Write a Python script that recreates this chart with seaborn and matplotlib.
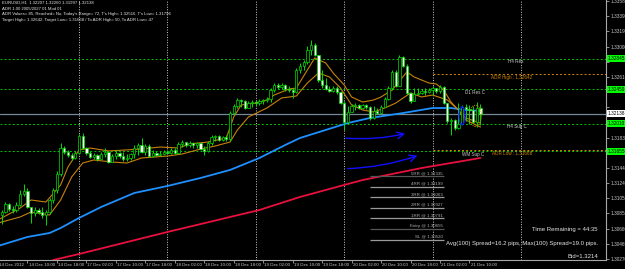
import numpy as np
import pandas as pd
import matplotlib
matplotlib.use("Agg")
import matplotlib.pyplot as plt
import seaborn as sns
from matplotlib.patches import Ellipse
from matplotlib.transforms import blended_transform_factory

# ---------------- data ----------------
first_open = 1.30771
close = [1.30835,1.30874,1.30977,1.30912,1.30900,1.30964,1.31105,1.31144,1.30938,1.30861,
         1.30900,1.30874,1.30835,1.30874,1.31028,1.31157,1.31362,1.31696,1.31645,1.31606,
         1.31568,1.31632,1.31850,1.31696,1.31632,1.31581,1.31606,1.31555,1.31619,1.31645,
         1.31516,1.31593,1.31632,1.31593,1.31555,1.31568,1.31619,1.31696,1.31735,1.31645,
         1.31722,1.31593,1.31632,1.31606,1.31619,1.31645,1.31632,1.31671,1.31632,1.31748,
         1.31773,1.31735,1.31760,1.31735,1.31760,1.31683,1.31658,1.31760,1.31838,1.31850,
         1.31799,1.31838,1.31812,1.32146,1.32236,1.32313,1.32300,1.32210,1.32274,1.32287,
         1.32274,1.32300,1.32313,1.32326,1.32442,1.32506,1.32480,1.32506,1.32454,1.32442,
         1.32416,1.32699,1.32750,1.32801,1.32956,1.33020,1.32891,1.32570,1.32506,1.32454,
         1.32429,1.32467,1.32416,1.32274,1.32030,1.32159,1.32236,1.32249,1.32210,1.32249,
         1.32223,1.32082,1.32172,1.32146,1.32223,1.32326,1.32467,1.32673,1.32493,1.32866,
         1.32750,1.32403,1.32300,1.32390,1.32403,1.32429,1.32416,1.32442,1.32467,1.32429,
         1.32480,1.32274,1.32043,1.32056,1.31953,1.32005,1.32223,1.32197,1.32185,1.32030,
         1.32207,1.32138]
high = [1.30900,1.30900,1.31002,1.30989,1.30951,1.31002,1.31157,1.31234,1.31182,1.30925,
        1.30938,1.30925,1.30938,1.30900,1.31054,1.31182,1.31401,1.31760,1.31722,1.31671,
        1.31632,1.31658,1.31876,1.31889,1.31709,1.31658,1.31632,1.31619,1.31645,1.31696,
        1.31658,1.31619,1.31671,1.31645,1.31645,1.31619,1.31632,1.31735,1.31760,1.31825,
        1.31748,1.31748,1.31671,1.31658,1.31658,1.31671,1.31671,1.31696,1.31696,1.31773,
        1.31799,1.31773,1.31786,1.31773,1.31773,1.31760,1.31722,1.31786,1.31863,1.31863,
        1.31863,1.31850,1.31863,1.32172,1.32262,1.32339,1.32326,1.32313,1.32300,1.32313,
        1.32313,1.32326,1.32326,1.32352,1.32467,1.32531,1.32531,1.32531,1.32519,1.32493,
        1.32467,1.32724,1.32788,1.32827,1.33007,1.33084,1.33045,1.32891,1.32699,1.32596,
        1.32493,1.32493,1.32493,1.32429,1.32300,1.32236,1.32262,1.32274,1.32262,1.32262,
        1.32262,1.32236,1.32236,1.32210,1.32249,1.32352,1.32493,1.32699,1.32699,1.32891,
        1.32878,1.32776,1.32416,1.32467,1.32467,1.32454,1.32467,1.32467,1.32493,1.32467,
        1.32506,1.32493,1.32274,1.32082,1.32069,1.32274,1.32249,1.32262,1.32249,1.32236,
        1.32287,1.32260]
low = [1.30720,1.30720,1.30861,1.30887,1.30861,1.30874,1.30951,1.31079,1.30925,1.30732,
       1.30822,1.30848,1.30797,1.30707,1.30848,1.30989,1.31118,1.31336,1.31619,1.31581,
       1.31542,1.31555,1.31619,1.31683,1.31606,1.31568,1.31555,1.31529,1.31555,1.31581,
       1.31503,1.31516,1.31555,1.31568,1.31529,1.31529,1.31542,1.31568,1.31606,1.31632,
       1.31606,1.31581,1.31581,1.31593,1.31593,1.31606,1.31619,1.31619,1.31619,1.31619,
       1.31709,1.31709,1.31709,1.31696,1.31696,1.31671,1.31606,1.31645,1.31735,1.31786,
       1.31786,1.31786,1.31786,1.31786,1.32120,1.32210,1.32223,1.32197,1.32210,1.32223,
       1.32236,1.32249,1.32262,1.32287,1.32287,1.32416,1.32454,1.32454,1.32429,1.32416,
       1.32339,1.32403,1.32660,1.32699,1.32776,1.32891,1.32878,1.32544,1.32467,1.32442,
       1.32416,1.32416,1.32390,1.32262,1.31928,1.32005,1.32159,1.32185,1.32197,1.32197,
       1.32197,1.32056,1.32069,1.32133,1.32133,1.32223,1.32313,1.32442,1.32480,1.32493,
       1.32737,1.32390,1.32274,1.32300,1.32377,1.32390,1.32377,1.32403,1.32377,1.32403,
       1.32403,1.32262,1.32017,1.31863,1.31928,1.31940,1.31992,1.32043,1.32005,1.32017,
       1.31966,1.31997]

# moving averages (bar index, price)
blue_idx = [0, 8, 14, 17, 22, 28, 37, 46, 55, 63, 71, 78, 82, 95, 101, 110, 118, 123, 127, 131]
blue_val = [1.30437, 1.30553, 1.30604, 1.30668, 1.30797, 1.30938, 1.31118, 1.31208, 1.31311, 1.31414,
            1.31568, 1.31735, 1.31825, 1.32017, 1.32082, 1.32146, 1.32210, 1.32210, 1.32185, 1.32172]
red_idx = [15, 22, 46, 71, 82, 99, 115, 131]
red_val = [1.30257, 1.30334, 1.30617, 1.30900, 1.31067, 1.31285, 1.31439, 1.31568]
env_up_idx = [0, 6, 9, 13, 17, 19, 22, 25, 30, 39, 44, 49, 52, 57, 62, 64, 66, 70, 73, 75, 79, 81,
              84, 86, 89, 91, 94, 96, 99, 102, 104, 107, 111, 113, 117, 119, 121, 123, 125, 127, 131]
env_up_val = [1.30771, 1.30925, 1.31028, 1.31002, 1.31221, 1.31452, 1.31671, 1.31696, 1.31658, 1.31683,
              1.31709, 1.31696, 1.31748, 1.31773, 1.31825, 1.32095, 1.32249, 1.32274, 1.32313, 1.32377,
              1.32454, 1.32467, 1.32699, 1.32853, 1.32788, 1.32660, 1.32506, 1.32352, 1.32287, 1.32313,
              1.32352, 1.32442, 1.32673, 1.32609, 1.32531, 1.32519, 1.32442, 1.32287, 1.32185, 1.32082,
              1.32017]
env_lo_idx = [0, 6, 9, 14, 17, 20, 23, 26, 31, 35, 39, 46, 50, 55, 59, 63, 65, 68, 73, 77, 81, 84,
              87, 90, 93, 96, 99, 102, 105, 108, 112, 115, 118, 122, 125, 127, 131]
env_lo_val = [1.30732, 1.30810, 1.30874, 1.30835, 1.31028, 1.31324, 1.31503, 1.31542, 1.31516, 1.31503,
              1.31568, 1.31593, 1.31619, 1.31683, 1.31722, 1.31773, 1.31928, 1.32095, 1.32210, 1.32339,
              1.32364, 1.32531, 1.32660, 1.32609, 1.32467, 1.32249, 1.32185, 1.32159, 1.32210, 1.32274,
              1.32403, 1.32352, 1.32377, 1.32313, 1.32185, 1.32056, 1.31966]

# time axis
time_tick_idx = [0, 8, 16, 24, 32, 40, 48, 56, 64, 72, 80, 88, 96, 104, 112, 120, 128]
time_tick_text = ["14 Dec 2012", "14 Dec 10:00", "14 Dec 18:00", "17 Dec 02:00", "17 Dec 10:00",
                  "17 Dec 18:00", "18 Dec 02:00", "18 Dec 10:00", "18 Dec 18:00", "19 Dec 02:00",
                  "19 Dec 10:00", "19 Dec 18:00", "20 Dec 02:00", "20 Dec 10:00", "20 Dec 18:00",
                  "21 Dec 02:00", "21 Dec 10:00"]
day_separator_idx = [22, 46, 70, 94, 118, 142]
price_ticks = [1.33585, 1.33390, 1.33195, 1.33000, 1.32805, 1.32610, 1.32415, 1.32220, 1.32025,
               1.31830, 1.31635, 1.31440, 1.31245, 1.31050, 1.30855, 1.30660, 1.30465, 1.30270]

# levels
pivot_names = ["H4 Res", "D1 Res C", "H4 Sup C", "WM Sup C"]
pivot_levels = [1.32845, 1.32450, 1.32010, 1.31655]
pivot_label_idx = [140.5, 129.5, 141.0, 129.0]
adr_names = ["ADR High : 1.32642", "ADR Low : 1.31668"]
adr_levels = [1.32642, 1.31668]
bid = 1.32138
rr_names = ["5RR", "4RR", "3RR", "2RR", "1RR", "Entry", "SL"]
rr_levels = [1.31335, 1.31199, 1.31063, 1.30927, 1.30791, 1.30655, 1.30520]

info_lines = ["EURUSD,H1  1.32207 1.32260 1.31997 1.32138",
              "ADR 1.00 2005/2027 01 Mod 01",
              "ADR Values= 85, Reached= No, Today's Range= 72, T's High= 1.32516, T's Low= 1.31796",
              "Target High= 1.32642, Target Low= 1.31668 / To ADR High= 50, To ADR Low= 47"]
status_lines = ["Time Remaining = 44:35",
                "Avg(100) Spread=16.2 pips, Max(100) Spread=19.0 pips.",
                "Bid=1.3214"]

# hand-drawn annotations (start idx, start price, end idx, end price)
arrows = [(93.7, 1.31825, 111.3, 1.31889), (94.2, 1.31430, 114.6, 1.31610)]

# ---------------- style ----------------
sns.set_theme(style="dark")
plt.rcParams['font.family'] = ['Liberation Sans', 'DejaVu Sans']

W, H = 625, 269
fig = plt.figure(figsize=(W / 100, H / 100), dpi=100, facecolor='black')
ax = fig.add_axes([0, 9 / H, 606 / W, 260 / H])
ax.set_facecolor('black')
ax.grid(False)
XMIN, XMAX = 0.543, 165.08
YMIN, YMAX = 1.30257, 1.33598
PX = (YMAX - YMIN) / 260.0

# separators & horizontal levels
ax.vlines(day_separator_idx, YMIN, YMAX, colors='#cfcfcf', linestyles=(0, (1, 1.6)), lw=0.7, zorder=1)
ax.hlines(pivot_levels, XMIN, XMAX, colors='#00c800', linestyles=(0, (2, 2.2)), lw=0.7, zorder=1)
ax.hlines(adr_levels, 118, XMAX, colors='#d08800', linestyles=(0, (2, 2.2)), lw=0.7, zorder=1)
ax.axhline(bid, color='#778899', lw=0.9, zorder=1)

# moving averages via seaborn
sns.lineplot(x=red_idx, y=red_val, ax=ax, color='#e8103c', lw=1.3, sort=False, zorder=2)
sns.lineplot(x=blue_idx, y=blue_val, ax=ax, color='#1e90ff', lw=1.3, sort=False, zorder=2)
sns.lineplot(x=env_up_idx, y=env_up_val, ax=ax, color='#c8820a', lw=0.8, sort=False, zorder=2)
sns.lineplot(x=env_lo_idx, y=env_lo_val, ax=ax, color='#c8820a', lw=0.8, sort=False, zorder=2)

# candles
c = np.array(close)
o = np.array([first_open] + close[:-1])
idx = np.arange(len(c))
bull = c >= o
ax.vlines(idx, low, high, color='#00dd00', lw=0.7, zorder=3)
body = np.maximum(np.abs(c - o), 0.00004)
ax.bar(idx, body, bottom=np.minimum(c, o), width=0.62,
       color=np.where(bull, 'black', 'white'), edgecolor='#00dd00', linewidth=0.5, zorder=4)

# RR lines
rr_colors = ['#555555', '#9a9a9a', '#9a9a9a', '#9a9a9a', '#9a9a9a', '#555555', '#9a9a9a']
ax.hlines(rr_levels, 101, 121, colors=rr_colors, lw=0.9, zorder=2)
for name, lv in zip(rr_names, rr_levels):
    ax.text(120.8, lv + 3 * PX, f"{name} @ {lv:.5f}", fontsize=3.2, color='#b0b0b0',
            ha='right', va='center', zorder=6)

# pivot / ADR labels
for name, lv, xi in zip(pivot_names, pivot_levels, pivot_label_idx):
    ax.text(xi, lv - 3 * PX, name, fontsize=3.3, color='#c8c8c8', ha='center', va='center', zorder=6)
for name, lv in zip(adr_names, adr_levels):
    ax.text(139.5, lv - 3 * PX, name, fontsize=3.3, color='#d08800', ha='center', va='center', zorder=6)

# annotations
for x0, y0, x1, y1 in arrows:
    ax.annotate("", xy=(x1, y1), xytext=(x0, y0),
                arrowprops=dict(arrowstyle='->', color='#1010ff', lw=1.0,
                                connectionstyle='arc3,rad=0.08'), zorder=5)
ax.add_patch(Ellipse((126.0, 1.32110), 1.6, 0.0023, fill=False, ec='#1010ff', lw=0.9, zorder=5))
ax.add_patch(Ellipse((129.6, 1.32110), 3.4, 0.0027, fill=False, ec='#c8820a', lw=0.7,
                     ls=(0, (1, 1)), zorder=5))

ax.set_xlim(XMIN, XMAX)
ax.set_ylim(YMIN, YMAX)
ax.set_xlabel("")
ax.set_ylabel("")

# axes
for s in ['top', 'left']:
    ax.spines[s].set_visible(False)
for s in ['right', 'bottom']:
    ax.spines[s].set_color('#a8a8a8')
    ax.spines[s].set_linewidth(0.8)
ax.yaxis.tick_right()
# tick labels hidden behind the level boxes (as in the terminal) are left out
boxed = pivot_levels + [bid]
shown_ticks = [v for v in price_ticks if min(abs(v - b) for b in boxed) > 7 * PX]
ax.set_yticks(price_ticks)
ax.set_yticklabels([f"{v:.5f}" if v in shown_ticks else "" for v in price_ticks])
ax.tick_params(axis='y', colors='#c8c8c8', labelsize=3.4, length=2, width=0.5, pad=1.5, right=True)
ax.set_xticks([t for t in time_tick_idx if t >= XMIN])
ax.set_xticklabels([])
ax.tick_params(axis='x', colors='#c8c8c8', length=2, width=0.5, bottom=True)
tb = blended_transform_factory(ax.transData, ax.transAxes)
for t, s in zip(time_tick_idx, time_tick_text):
    ax.text(t + 0.3, -0.012, s, transform=tb, fontsize=3.2, color='#c8c8c8',
            ha='left', va='top', clip_on=False)

# right axis boxes
ty = blended_transform_factory(ax.transAxes, ax.transData)
for lv in pivot_levels:
    ax.text(1.003, lv, f"{lv:.5f}", transform=ty, fontsize=3.4, color='black', ha='left', va='center',
            bbox=dict(boxstyle='square,pad=0.2', fc='#00ff00', ec='none'), clip_on=False, zorder=10)
ax.text(1.003, bid, f"{bid:.5f}", transform=ty, fontsize=3.4, color='black', ha='left', va='center',
        bbox=dict(boxstyle='square,pad=0.2', fc='white', ec='none'), clip_on=False, zorder=10)

# info text
for k, line in enumerate(info_lines):
    fig.text(2 / W, 1 - (2.8 + 5.7 * k) / H, line, fontsize=3.1, color='#e6e6e6', ha='left', va='center')
for line, ypx in zip(status_lines, [229, 243, 257]):
    fig.text(598 / W, 1 - ypx / H, line, fontsize=4.3, color='#e6e6e6', ha='right', va='center')

fig.savefig("out.png", dpi=100, facecolor='black')
